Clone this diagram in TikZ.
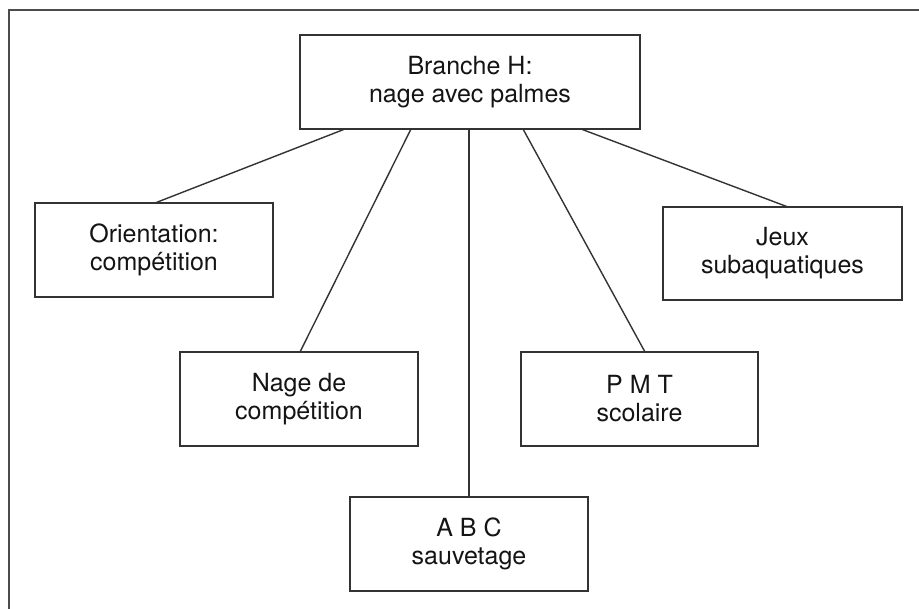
\documentclass[tikz,border=0pt]{standalone}
\usepackage{fontspec}
\setmainfont{TeX Gyre Heros}
\begin{document}
\begin{tikzpicture}[x=1pt,y=-1pt,
  box/.style={draw=black!80,line width=1.7pt,text=black!92,align=center,
    inner sep=0pt,outer sep=0pt,font=\fontsize{25}{28}\selectfont},
  conn/.style={draw=black!80,line width=1.4pt},
  frame/.style={draw=black!70,line width=1.5pt}]
\useasboundingbox (0,0) rectangle (919,609);
\coordinate (ftr) at (919,10);
\coordinate (ftl) at (9,10);
\coordinate (fbl) at (9,609);
\draw[frame] (ftr) -- (ftl) -- (fbl);
\node[box,minimum width=340pt,minimum height=94pt] (top) at (470,82) {Branche H:\\nage avec palmes};
\node[box,minimum width=238pt,minimum height=94pt] (ori) at (154,250) {Orientation:\\compétition};
\node[box,minimum width=238pt,minimum height=94pt] (nage) at (299,399) {Nage de\\compétition};
\node[box,minimum width=239pt,minimum height=93pt] (jeux) at (782.5,253.5) {Jeux\\subaquatiques};
\node[box,minimum width=237pt,minimum height=94pt] (pmt) at (639.5,399) {P M T\\scolaire};
\node[box,minimum width=238pt,minimum height=94pt] (abc) at (469,544) {A B C\\sauvetage};
\draw[conn] ([xshift=-125pt]top.south) -- ([xshift=1pt]ori.north);
\draw[conn] ([xshift=-59pt]top.south) -- ([xshift=1pt]nage.north);
\draw[conn] ([xshift=-1pt]top.south) -- ([xshift=0pt]abc.north);
\draw[conn] ([xshift=53pt]top.south) -- ([xshift=5.5pt]pmt.north);
\draw[conn] ([xshift=111pt]top.south) -- ([xshift=5.5pt]jeux.north);
\end{tikzpicture}
\end{document}
